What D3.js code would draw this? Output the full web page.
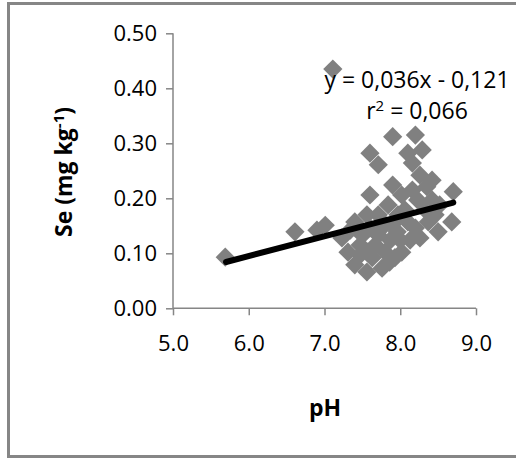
<!DOCTYPE html>
<html><head><meta charset="utf-8">
<script src="https://cdn.jsdelivr.net/npm/d3@7"></script>
<style>body{margin:0;background:#fff}svg{display:block}text{font-family:"Open Sans",sans-serif}</style>
</head><body><svg id="c" width="516" height="459"></svg>
<script>
const phValues = [5.69,6.61,6.90,7.01,7.11,
  7.90,8.20,8.29,8.10,7.60,7.71,8.16,8.26,8.35,7.90,7.60,8.70,8.02,7.84,8.23,8.42,8.42,
  8.68,8.50,8.26,8.02,7.40,7.56,7.71,7.23,7.31,7.40,7.56,7.76,7.93,7.50,7.71,7.89,7.57,7.80,
  8.10,8.20,8.37,8.46,8.00,7.47,7.67,7.87,8.06,7.97,7.80,7.60,
  7.34,7.63,7.47,7.86,7.73,8.13,7.96,8.33,8.16,8.52];
const seValues = [0.093,0.139,0.142,0.151,0.435,
  0.312,0.315,0.288,0.282,0.282,0.261,0.264,0.242,0.221,0.224,0.206,0.212,0.206,0.188,0.197,0.197,0.233,
  0.157,0.139,0.128,0.102,0.157,0.170,0.170,0.128,0.102,0.079,0.066,0.073,0.092,0.133,0.133,0.152,0.102,0.102,
  0.157,0.146,0.157,0.170,0.124,0.115,0.115,0.124,0.179,0.170,0.152,0.146,
  0.142,0.092,0.097,0.084,0.146,0.124,0.139,0.179,0.215,0.188];
const xTicks = [5.0,6.0,7.0,8.0,9.0];
const yTicks = [0.00,0.10,0.20,0.30,0.40,0.50];
const trendX = [5.7, 8.7];
const slope = 0.036, intercept = -0.121;
const eqLine1 = "y = 0,036x - 0,121";

const svg = d3.select("#c");
const x = d3.scaleLinear().domain([5,9]).range([173,476]);
const y = d3.scaleLinear().domain([0,0.5]).range([308.3,33.3]);
const grey = "#868686";

svg.append("rect").attr("x",8.5).attr("y",3.5).attr("width",520).attr("height",453)
  .attr("fill","#fff").attr("stroke",grey).attr("stroke-width",3);

const xa = svg.append("g").attr("transform","translate(0,308.3)")
  .call(d3.axisBottom(x).tickValues(xTicks).tickSize(7).tickPadding(20).tickFormat(d3.format(".1f")));
const ya = svg.append("g").attr("transform","translate(173,0)")
  .call(d3.axisLeft(y).tickValues(yTicks).tickSize(7).tickPadding(9).tickFormat(d3.format(".2f")));
[xa,ya].forEach(a=>{
  a.select(".domain").attr("stroke",grey).attr("stroke-width",1.5);
  a.selectAll(".tick line").attr("stroke",grey).attr("stroke-width",1.5);
  a.selectAll(".tick text").attr("font-size",22).attr("font-family","Open Sans").attr("fill","#000");
});
ya.select(".domain").attr("d","M0,33.3V308.3");
xa.select(".domain").attr("d","M173,0H476");

const pts = phValues.map((p,i)=>({p, s: seValues[i]}));
const sym = d3.symbol().type(d3.symbolSquare).size(185);
svg.append("g").selectAll("path").data(pts).join("path")
  .attr("d",sym).attr("fill","#808080")
  .attr("transform",d=>`translate(${x(d.p)},${y(d.s)}) rotate(45)`);

svg.append("line")
  .attr("x1",x(trendX[0])).attr("y1",y(slope*trendX[0]+intercept))
  .attr("x2",x(trendX[1])).attr("y2",y(slope*trendX[1]+intercept))
  .attr("stroke","#000").attr("stroke-width",6).attr("stroke-linecap","round");

svg.append("text").attr("x",417).attr("y",88).attr("text-anchor","middle").attr("font-size",23).text(eqLine1);
const r = svg.append("text").attr("x",417).attr("y",119).attr("text-anchor","middle").attr("font-size",23);
r.append("tspan").text("r");
r.append("tspan").attr("dy",-8).attr("font-size",15).text("2");
r.append("tspan").attr("dy",8).text(" = 0,066");

svg.append("text").attr("x",325).attr("y",416).attr("text-anchor","middle").attr("font-size",23).attr("font-weight","bold").text("pH");
const yl = svg.append("text").attr("transform","translate(72,172) rotate(-90)").attr("text-anchor","middle")
  .attr("font-size",23).attr("font-weight","bold");
yl.append("tspan").text("Se (mg kg");
yl.append("tspan").attr("dy",-8).attr("font-size",15).text("-1");
yl.append("tspan").attr("dy",8).text(")");
</script></body></html>
